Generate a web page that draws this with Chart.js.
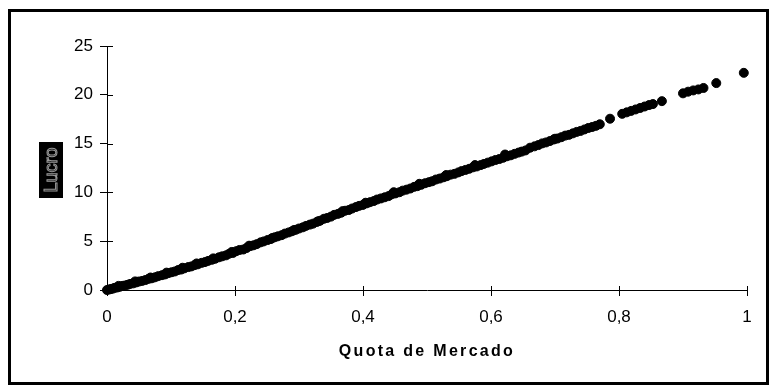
<!DOCTYPE html>
<html>
<head>
<meta charset="utf-8">
<script src="https://cdn.jsdelivr.net/npm/chart.js@4.4.0/dist/chart.umd.min.js"></script>
<style>
  html, body { margin: 0; padding: 0; background: #fff; }
  #wrap { width: 771px; height: 390px; position: relative; }
</style>
</head>
<body>
<div id="wrap"><canvas id="myChart" width="771" height="390"></canvas></div>
<script>
// quota de mercado (x) e lucro (y)
let quota = [
  0.000, 0.003, 0.006, 0.009, 0.012, 0.016, 0.020, 0.024, 0.028, 0.032,
  0.036, 0.041, 0.046, 0.050, 0.055, 0.060, 0.065, 0.070, 0.075, 0.080,
  0.086, 0.091, 0.096, 0.101, 0.106, 0.111, 0.116, 0.121, 0.127, 0.132,
  0.137, 0.142, 0.148, 0.153, 0.158, 0.164, 0.169, 0.175, 0.180, 0.186,
  0.191, 0.197, 0.202, 0.207, 0.213, 0.218, 0.224, 0.229, 0.234, 0.240,
  0.245, 0.251, 0.256, 0.262, 0.267, 0.273, 0.278, 0.284, 0.289, 0.295,
  0.300, 0.306, 0.311, 0.317, 0.322, 0.328, 0.333, 0.339, 0.344, 0.350,
  0.355, 0.361, 0.366, 0.372, 0.378, 0.383, 0.389, 0.394, 0.400, 0.406,
  0.411, 0.417, 0.422, 0.428, 0.434, 0.440, 0.445, 0.451, 0.457, 0.462,
  0.468, 0.474, 0.480, 0.485, 0.491, 0.497, 0.503, 0.508, 0.514, 0.520,
  0.526, 0.531, 0.537, 0.543, 0.549, 0.554, 0.560, 0.566, 0.572, 0.578,
  0.584, 0.589, 0.595, 0.601, 0.607, 0.613, 0.619, 0.625, 0.631, 0.637,
  0.643, 0.648, 0.654, 0.661, 0.668, 0.674, 0.680, 0.686, 0.692, 0.698,
  0.704, 0.710, 0.716, 0.722, 0.728, 0.734, 0.740, 0.746, 0.752, 0.758,
  0.764, 0.770, 0.786, 0.805, 0.812, 0.819, 0.826, 0.833, 0.840, 0.847,
  0.853, 0.867, 0.900, 0.908, 0.916, 0.924, 0.932, 0.952, 0.995,
  0.018, 0.044, 0.068, 0.093, 0.118, 0.140, 0.166, 0.195, 0.222, 0.258,
  0.292, 0.330, 0.368, 0.404, 0.448, 0.488, 0.530, 0.575, 0.622, 0.700
];
let lucro = [
  0.00, 0.05, 0.10, 0.14, 0.22, 0.26, 0.33, 0.42, 0.46, 0.53,
  0.62, 0.68, 0.78, 0.87, 0.93, 1.02, 1.14, 1.20, 1.30, 1.42,
  1.52, 1.60, 1.73, 1.82, 1.90, 2.04, 2.10, 2.22, 2.35, 2.42,
  2.55, 2.63, 2.78, 2.86, 2.98, 3.10, 3.20, 3.35, 3.45, 3.55,
  3.72, 3.80, 3.98, 4.10, 4.15, 4.30, 4.50, 4.58, 4.70, 4.88,
  4.98, 5.12, 5.22, 5.40, 5.50, 5.62, 5.78, 5.90, 6.02, 6.17,
  6.30, 6.42, 6.57, 6.70, 6.80, 6.98, 7.10, 7.30, 7.38, 7.52,
  7.70, 7.80, 7.92, 8.12, 8.20, 8.35, 8.50, 8.62, 8.72, 8.88,
  9.00, 9.12, 9.27, 9.38, 9.50, 9.62, 9.80, 9.90, 10.02, 10.18,
  10.28, 10.40, 10.57, 10.64, 10.78, 10.94, 11.05, 11.14, 11.32, 11.42,
  11.55, 11.66, 11.82, 11.90, 12.05, 12.18, 12.30, 12.42, 12.57, 12.66,
  12.80, 12.92, 13.05, 13.18, 13.32, 13.42, 13.55, 13.70, 13.80, 13.95,
  14.08, 14.18, 14.30, 14.58, 14.72, 14.85, 15.02, 15.12, 15.26, 15.42,
  15.52, 15.66, 15.82, 15.90, 16.05, 16.20, 16.30, 16.45, 16.60, 16.70,
  16.82, 16.98, 17.55, 18.05, 18.20, 18.35, 18.50, 18.65, 18.80, 18.95,
  19.05, 19.35, 20.15, 20.32, 20.45, 20.55, 20.70, 21.20, 22.25,
  0.42, 0.88, 1.28, 1.78, 2.28, 2.72, 3.24, 3.90, 4.54, 5.32,
  6.14, 7.04, 8.08, 8.94, 10.02, 10.88, 11.78, 12.80, 13.88, 15.50
];
let xTickLabels = ["0", "0,2", "0,4", "0,6", "0,8", "1"];
let yTickLabels = ["0", "5", "10", "15", "20", "25"];
let xTitle = "Quota de Mercado";
let yTitle = "Lucro";

let points = quota.map((q, i) => ({ x: q, y: lucro[i] }));

// moldura, marcas das escalas (cruzando o eixo), titulos
const extras = {
  id: "extras",
  afterDraw(chart) {
    const ctx = chart.ctx;
    const xs = chart.scales.x;
    const ys = chart.scales.y;
    const area = chart.chartArea;
    ctx.save();
    ctx.strokeStyle = "#000";
    ctx.lineWidth = 1;
    ctx.beginPath();
    xs.ticks.forEach((t) => {
      const px = Math.round(xs.getPixelForValue(t.value)) + 0.5;
      ctx.moveTo(px, area.bottom - 4);
      ctx.lineTo(px, area.bottom);
    });
    ys.ticks.forEach((t) => {
      const py = Math.round(ys.getPixelForValue(t.value)) + 0.5;
      ctx.moveTo(area.left, py);
      ctx.lineTo(area.left + 6, py);
    });
    ctx.stroke();

    // titulo eixo x
    ctx.fillStyle = "#000";
    ctx.font = "bold 16px 'Liberation Sans', Arial, sans-serif";
    ctx.letterSpacing = "2.3px";
    ctx.textAlign = "center";
    ctx.textBaseline = "middle";
    ctx.fillText(xTitle, (area.left + area.right) / 2, 352);
    ctx.letterSpacing = "0px";

    // titulo eixo y (caixa preta, letras contornadas)
    ctx.fillStyle = "#000";
    ctx.fillRect(39, 142, 24, 56);
    ctx.translate(51, 170);
    ctx.rotate(-Math.PI / 2);
    ctx.font = "18px 'Liberation Sans', Arial, sans-serif";
    ctx.strokeStyle = "#9a9a9a";
    ctx.lineWidth = 1;
    ctx.strokeText(yTitle, 0, 1);
    ctx.restore();

    // moldura
    ctx.save();
    ctx.strokeStyle = "#000";
    ctx.lineWidth = 3;
    ctx.strokeRect(9.5, 10.5, 758, 373);
    ctx.restore();
  },
};

const ctx = document.getElementById("myChart").getContext("2d");
const chartObj = {
  type: "scatter",
  data: {
    datasets: [
      {
        label: yTitle,
        data: points,
        backgroundColor: "#000",
        borderColor: "#000",
        borderWidth: 1,
        pointRadius: 4.5,
        pointHoverRadius: 4.5,
        clip: false,
      },
    ],
  },
  options: {
    responsive: false,
    animation: false,
    events: [],
    layout: { padding: { left: 0, right: 24, top: 46, bottom: 0 } },
    plugins: {
      legend: { display: false },
      tooltip: { enabled: false },
    },
    scales: {
      x: {
        type: "linear",
        min: 0,
        max: 1,
        afterBuildTicks: (scale) => {
          scale.ticks = xTickLabels.map((l, i) => ({ value: i * 0.2 }));
        },
        afterFit: (scale) => {
          scale.height = 100;
        },
        grid: {
          display: true,
          drawOnChartArea: false,
          drawTicks: true,
          tickLength: 6,
          color: "#000",
        },
        border: { display: true, color: "#000", width: 1 },
        ticks: {
          color: "#000",
          padding: 11,
          maxRotation: 0,
          font: { family: "'Liberation Sans', Arial, sans-serif", size: 17 },
          callback: (v, i) => xTickLabels[i],
        },
      },
      y: {
        type: "linear",
        min: 0,
        max: 25,
        afterBuildTicks: (scale) => {
          scale.ticks = yTickLabels.map((l) => ({ value: Number(l) }));
        },
        afterFit: (scale) => {
          scale.width = 107;
        },
        grid: {
          display: true,
          drawOnChartArea: false,
          drawTicks: true,
          tickLength: 7,
          color: "#000",
        },
        border: { display: true, color: "#000", width: 1 },
        ticks: {
          color: "#000",
          padding: 7,
          font: { family: "'Liberation Sans', Arial, sans-serif", size: 17 },
          callback: (v, i) => yTickLabels[i],
        },
      },
    },
  },
  plugins: [extras],
};
const myChart = new Chart(ctx, chartObj);
</script>
</body>
</html>
